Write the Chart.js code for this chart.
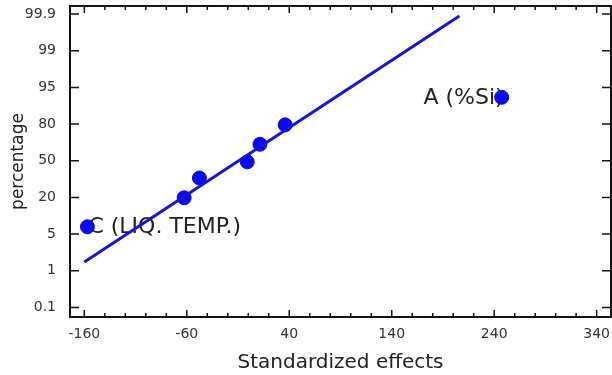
<!DOCTYPE html>
<html>
<head>
  <title>Normal probability plot of standardized effects</title>
  <script src="https://cdn.jsdelivr.net/npm/chart.js"></script>
  <style>
    body { margin: 0; background: #fff; }
    #plot { display: block; }
  </style>
</head>
<body>
  <canvas id="plot" width="612" height="375"></canvas>
  <script>
    // y axis is a normal probability scale: labels are evenly spaced, y values are tick positions
    const pctLabels = ['0.1', '1', '5', '20', '50', '80', '95', '99', '99.9'];
    const xTickValues = [-160, -60, 40, 140, 240, 340];

    // standardized effects (x) and their plotting position (y, in tick units)
    const effectX = [-157, -62.6, -47.7, -1, 11.4, 36, 247.3];
    const effectY = [2.2, 2.99, 3.53, 3.97, 4.45, 4.98, 5.73];
    const effectNames = ['C (LIQ. TEMP.)', '', '', '', '', '', 'A (%Si)'];

    // fitted reference line
    const fitX = [-160, 206];
    const fitY = [1.24, 7.95];

    const fontFamily = '"DejaVu Sans", Arial, sans-serif';
    const ctx = document.getElementById('plot').getContext('2d');

    const noPad = (scale) => {
      scale.paddingLeft = 0; scale.paddingRight = 0;
      scale.paddingTop = 0; scale.paddingBottom = 0;
    };

    const framePlugin = {
      id: 'frame',
      beforeDatasetsDraw(chart) {
        const c = chart.ctx;
        const xs = chart.scales.x, ys = chart.scales.y;
        c.save();
        c.font = '22px ' + fontFamily;
        c.fillStyle = '#222';
        c.textBaseline = 'middle';
        effectNames.forEach((name, i) => {
          if (!name) return;
          const px = xs.getPixelForValue(effectX[i]);
          const py = ys.getPixelForValue(effectY[i]);
          if (effectX[i] > 100) {
            c.textAlign = 'right';
            c.fillText(name, px + 2, py + 1);
          } else {
            c.textAlign = 'left';
            c.fillText(name, px + 1, py + 1);
          }
        });
        c.restore();
      },
      afterDraw(chart) {
        const c = chart.ctx;
        const a = chart.chartArea;
        const xs = chart.scales.x, ys = chart.scales.y;
        c.save();
        c.strokeStyle = '#111';
        c.lineWidth = 2;
        c.strokeRect(a.left, a.top, a.right - a.left, a.bottom - a.top);
        c.lineWidth = 1.5;
        c.beginPath();
        // x ticks, minor every 20, major every 100
        for (let v = -160; v <= xs.max; v += 20) {
          const px = xs.getPixelForValue(v);
          const len = xTickValues.includes(v) ? 7 : 4;
          c.moveTo(px, a.bottom); c.lineTo(px, a.bottom - len);
          c.moveTo(px, a.top); c.lineTo(px, a.top + len);
        }
        for (let i = 0; i < pctLabels.length; i++) {
          const py = ys.getPixelForValue(i);
          c.moveTo(a.left, py); c.lineTo(a.left + 9, py);
          c.moveTo(a.right, py); c.lineTo(a.right - 9, py);
        }
        c.stroke();
        c.restore();
      }
    };

    const chart = new Chart(ctx, {
      type: 'scatter',
      data: {
        datasets: [{
          label: 'fit',
          data: fitX.map((x, i) => ({x: x, y: fitY[i]})),
          showLine: true,
          borderColor: '#1515d6',
          borderWidth: 3,
          pointRadius: 0,
          fill: false
        },
        {
          label: 'effects',
          data: effectX.map((x, i) => ({x: x, y: effectY[i]})),
          backgroundColor: '#0b0bea',
          borderColor: '#0b0bea',
          pointRadius: 7,
          pointHoverRadius: 7
        }]
      },
      options: {
        responsive: false,
        animation: false,
        layout: { autoPadding: false, padding: { top: 6, right: 1, left: 0, bottom: 0 } },
        plugins: {
          legend: { display: false },
          tooltip: { enabled: false }
        },
        scales: {
          x: {
            type: 'linear',
            min: -174,
            max: 354,
            afterBuildTicks: (scale) => { scale.ticks = xTickValues.map(v => ({value: v})); },
            afterFit: (scale) => { scale.height = 58; noPad(scale); },
            // invisible tick marks only push the labels away from the axis
            grid: { display: true, color: 'rgba(0,0,0,0)', drawTicks: true, tickLength: 9 },
            border: { display: false },
            ticks: {
              color: '#333',
              padding: 0,
              maxRotation: 0,
              font: { size: 14, family: fontFamily }
            },
            title: {
              display: true,
              text: 'Standardized effects',
              color: '#222',
              padding: { top: 0, bottom: 0 },
              font: { size: 20, family: fontFamily }
            }
          },
          y: {
            type: 'linear',
            min: -0.26,
            max: 8.22,
            afterBuildTicks: (scale) => { scale.ticks = pctLabels.map((t, i) => ({value: i})); },
            afterFit: (scale) => { scale.width = 70; noPad(scale); },
            grid: { display: true, color: 'rgba(0,0,0,0)', drawTicks: true, tickLength: 14 },
            border: { display: false },
            ticks: {
              color: '#333',
              padding: 0,
              callback: (v) => pctLabels[v],
              font: { size: 14, family: fontFamily }
            },
            title: {
              display: true,
              text: 'percentage',
              color: '#222',
              padding: { top: 8, bottom: 0 },
              font: { size: 17, family: fontFamily }
            }
          }
        }
      },
      plugins: [framePlugin]
    });
  </script>
</body>
</html>
